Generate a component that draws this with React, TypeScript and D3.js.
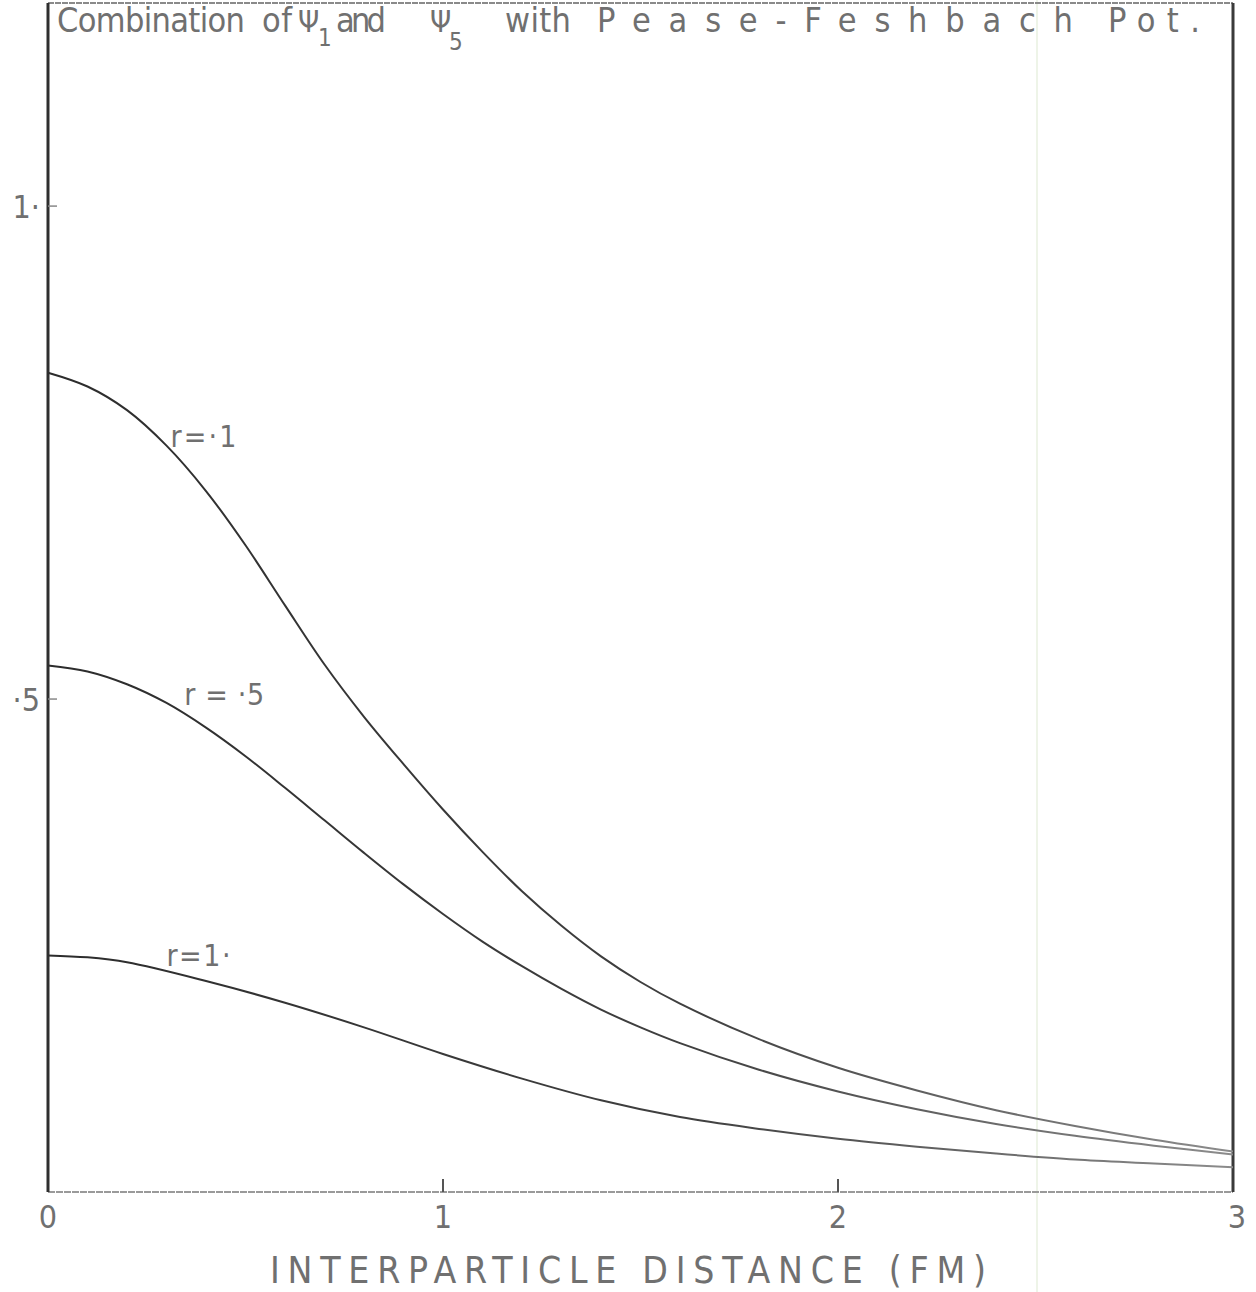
import React, { useEffect, useRef } from 'react';
import * as d3 from 'd3';

// distances (FM) sampled along the curves
const distFine = [0, 0.1, 0.2, 0.3, 0.4, 0.5, 0.6, 0.7, 0.8, 0.9, 1.0, 1.1, 1.2, 1.3, 1.4, 1.5, 1.6, 1.8, 2.0, 2.2, 2.4, 2.6, 2.8, 3.0];
const distCoarse = [0, 0.1, 0.2, 0.4, 0.6, 0.8, 1.0, 1.2, 1.4, 1.6, 1.8, 2.0, 2.2, 2.4, 2.6, 2.8, 3.0];

const curveR01 = [0.831, 0.817, 0.793, 0.757, 0.711, 0.656, 0.595, 0.535, 0.482, 0.434, 0.388, 0.345, 0.305, 0.270, 0.239, 0.213, 0.191, 0.155, 0.126, 0.103, 0.083, 0.067, 0.053, 0.041];
const curveR05 = [0.534, 0.528, 0.515, 0.496, 0.471, 0.442, 0.410, 0.377, 0.344, 0.312, 0.282, 0.254, 0.229, 0.206, 0.185, 0.167, 0.151, 0.124, 0.102, 0.084, 0.069, 0.057, 0.047, 0.038];
const curveR1 = [0.240, 0.238, 0.233, 0.214, 0.192, 0.167, 0.140, 0.115, 0.093, 0.076, 0.064, 0.054, 0.046, 0.039, 0.033, 0.029, 0.025];

const xTicks = [0, 1, 2, 3];
const xTickLabels = ['0', '1', '2', '3'];
const yTicks = [0.5, 1];
const yTickLabels = ['·5', '1·'];

const FONT = "'DejaVu Sans Condensed', 'Liberation Sans Narrow', 'DejaVu Sans', sans-serif";
const TXT = '#707070';

export default function App() {
  const ref = useRef<SVGSVGElement | null>(null);

  useEffect(() => {
    document.body.style.margin = '0';
    const W = 1256, H = 1292;
    const svg = d3.select(ref.current);
    svg.selectAll('*').remove();

    const x = d3.scaleLinear().domain([0, 3]).range([48, 1233]);
    const y = d3.scaleLinear().domain([0, 1.206]).range([1192, 3]);

    svg.append('rect').attr('width', W).attr('height', H).attr('fill', '#fff');

    // ink fades toward the right, as in the copy
    const grad = svg.append('defs').append('linearGradient')
      .attr('id', 'ink').attr('gradientUnits', 'userSpaceOnUse')
      .attr('x1', x(0)).attr('x2', x(3)).attr('y1', 0).attr('y2', 0);
    grad.append('stop').attr('offset', '0').attr('stop-color', '#2c2c2c');
    grad.append('stop').attr('offset', '0.55').attr('stop-color', '#404040');
    grad.append('stop').attr('offset', '1').attr('stop-color', '#8c8c8c');

    // faint fold on the paper
    svg.append('line')
      .attr('x1', 1037).attr('x2', 1037).attr('y1', 0).attr('y2', H)
      .attr('stroke', '#eef4e8').attr('stroke-width', 2);

    // frame
    svg.append('line')
      .attr('x1', x(0)).attr('x2', x(3)).attr('y1', y(1.206)).attr('y2', y(1.206))
      .attr('stroke', '#8a8a8a').attr('stroke-width', 2).attr('stroke-dasharray', '6 1');
    svg.append('line')
      .attr('x1', x(0)).attr('x2', x(3)).attr('y1', y(0)).attr('y2', y(0))
      .attr('stroke', '#9a9a9a').attr('stroke-width', 2).attr('stroke-dasharray', '7 1');
    svg.append('line')
      .attr('x1', x(0)).attr('x2', x(0)).attr('y1', y(1.206)).attr('y2', y(0))
      .attr('stroke', '#2e2e2e').attr('stroke-width', 3);
    svg.append('line')
      .attr('x1', x(3)).attr('x2', x(3)).attr('y1', y(1.206)).attr('y2', y(0))
      .attr('stroke', '#3a3a3a').attr('stroke-width', 3);

    // x ticks
    svg.selectAll('.xt')
      .data(xTicks.filter(d => d > 0 && d < 3))
      .enter().append('line')
      .attr('x1', d => x(d)).attr('x2', d => x(d))
      .attr('y1', y(0)).attr('y2', y(0) - 13)
      .attr('stroke', '#555').attr('stroke-width', 2);

    svg.selectAll('.xl')
      .data(xTicks)
      .enter().append('text')
      .attr('x', d => x(d) + (d === 3 ? 4 : 0))
      .attr('y', 1228)
      .attr('text-anchor', 'middle')
      .style('font-family', FONT).style('font-size', '32px').style('fill', TXT)
      .text((d, i) => xTickLabels[i]);

    // y ticks
    svg.selectAll('.yt')
      .data(yTicks)
      .enter().append('line')
      .attr('x1', x(0)).attr('x2', x(0) + 9)
      .attr('y1', d => y(d)).attr('y2', d => y(d))
      .attr('stroke', '#888').attr('stroke-width', 1.5);

    svg.selectAll('.yl')
      .data(yTicks)
      .enter().append('text')
      .attr('x', 40)
      .attr('y', d => y(d) + 12)
      .attr('text-anchor', 'end')
      .style('font-family', FONT).style('font-size', '32px').style('fill', TXT)
      .text((d, i) => yTickLabels[i]);

    // curves
    const line = d3.line<[number, number]>()
      .x(d => x(d[0])).y(d => y(d[1]))
      .curve(d3.curveCatmullRom.alpha(0.5));

    const series: [number, number][][] = [
      distFine.map((d, i) => [d, curveR01[i]]),
      distFine.map((d, i) => [d, curveR05[i]]),
      distCoarse.map((d, i) => [d, curveR1[i]]),
    ];
    svg.selectAll('.curve')
      .data(series)
      .enter().append('path')
      .attr('d', d => line(d))
      .attr('fill', 'none')
      .attr('stroke', 'url(#ink)')
      .attr('stroke-width', 2);

    // curve labels
    const lab = (tx: number, ty: number, s: string, len: number) =>
      svg.append('text')
        .attr('x', x(tx)).attr('y', y(ty))
        .attr('textLength', len).attr('lengthAdjust', 'spacing')
        .style('font-family', FONT).style('font-size', '30px').style('fill', TXT)
        .text(s);
    lab(0.31, 0.756, 'r=·1', 66);
    lab(0.345, 0.494, 'r = ·5', 80);
    lab(0.30, 0.229, 'r=1·', 64);

    // title pieces
    const tg = svg.append('g')
      .style('font-family', FONT).style('font-size', '34px').style('fill', TXT);
    const piece = (px: number, py: number, s: string, len?: number, size?: number) => {
      const t = tg.append('text').attr('x', px).attr('y', py).text(s);
      if (len) t.attr('textLength', len).attr('lengthAdjust', 'spacing');
      if (size) t.style('font-size', size + 'px');
    };
    piece(57, 32, 'Combination', 188);
    piece(262, 32, 'of', 30);
    piece(298, 32, 'Ψ', undefined, 30);
    piece(318, 46, '1', undefined, 24);
    piece(336, 32, 'and', 50);
    piece(430, 32, 'Ψ', undefined, 30);
    piece(449, 50, '5', undefined, 24);
    piece(505, 32, 'with', 66);
    piece(597, 32, 'Pease-Feshbach', 476);
    piece(1108, 32, 'Pot.', 92);

    // x axis title
    svg.append('text')
      .attr('x', 270).attr('y', 1283)
      .attr('textLength', 716).attr('lengthAdjust', 'spacing')
      .style('font-family', FONT).style('font-size', '37px').style('fill', TXT)
      .text('INTERPARTICLE DISTANCE (FM)');
  }, []);

  return <svg ref={ref} width={1256} height={1292} style={{ display: 'block' }} />;
}
